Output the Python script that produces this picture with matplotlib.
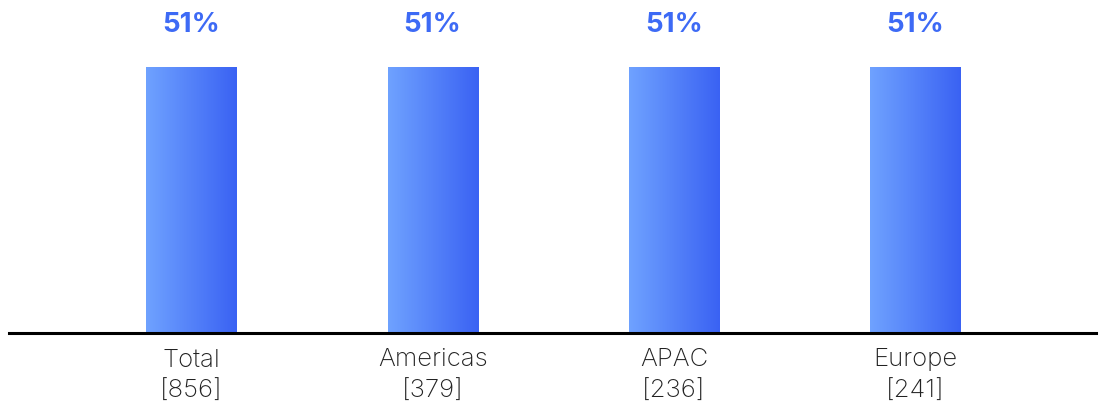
import numpy as np
import matplotlib.pyplot as plt
from matplotlib.colors import LinearSegmentedColormap

plt.rcParams['font.family'] = ['Inter', 'DejaVu Sans']

regions = ['Total', 'Americas', 'APAC', 'Europe']
counts = [856, 379, 236, 241]
values = [51, 51, 51, 51]

fig = plt.figure(figsize=(11.04, 4.07), dpi=100)
ax = fig.add_axes([9 / 1104, 74 / 407, 1087 / 1104, 333 / 407])

grad = LinearSegmentedColormap.from_list('blu', ['#6FA2FF', '#3A62F3'])
x = np.arange(len(regions))
width = 0.373
ramp = np.linspace(0, 1, 256).reshape(1, -1)
for xi, v in zip(x, values):
    ax.imshow(ramp, cmap=grad, aspect='auto',
              extent=(xi - width / 2, xi + width / 2, 0, v), zorder=2)
    ax.text(xi, v + 8.1, f'{v}%', ha='center', va='center',
            fontsize=20, fontweight='bold', color='#3D6AF5')

ax.set_xlim(-0.755, 3.749)
ax.set_ylim(0, 63.85)
ax.set_xticks(x)
ax.set_xticklabels([f'{r}\n[{c}]' for r, c in zip(regions, counts)],
                   fontsize=18.5, fontweight='light', color='#222222',
                   linespacing=1.5)
ax.tick_params(axis='x', length=0, pad=11)
ax.set_yticks([])
for s in ['top', 'right', 'left']:
    ax.spines[s].set_visible(False)
ax.spines['bottom'].set_linewidth(2.2)
ax.spines['bottom'].set_color('black')

fig.savefig('out.png', dpi=100)
